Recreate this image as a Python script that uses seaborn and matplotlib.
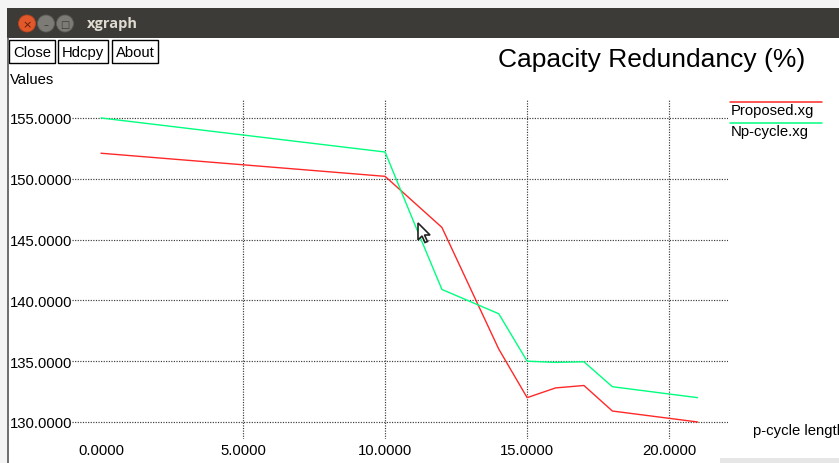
import matplotlib
matplotlib.use("Agg")
import matplotlib.pyplot as plt
from matplotlib.patches import Rectangle, Circle, Polygon
import seaborn as sns

# p-cycle length values and capacity redundancy (%)
p_cycle_length = [0, 10, 11, 12, 13, 14, 15, 16, 17, 18, 21]
proposed = [152.1, 150.2, 148.1, 146.0, 141.0, 136.0, 132.0, 132.8, 133.0, 130.9, 130.0]
np_cycle = [155.0, 152.2, 146.5, 140.9, 139.9, 138.9, 135.0, 134.9, 134.95, 132.9, 132.0]

series_names = ["Proposed.xg", "Np-cycle.xg"]
x_ticks = [0, 5, 10, 15, 20]
y_ticks = [130, 135, 140, 145, 150, 155]

RED = "#ff2828"
GREEN = "#00ff7f"
FONT = "Liberation Sans"
W, H = 839, 464

sns.set_style("white")
plt.rcParams["font.family"] = [FONT, "DejaVu Sans"]

fig = plt.figure(figsize=(W / 100, H / 100), dpi=100)
fig.patch.set_facecolor("#f4f4f4")

# background layer in pixel coords (y grows downwards) for the window chrome
bg = fig.add_axes([0, 0, 1, 1], zorder=0)
bg.set_xlim(0, W)
bg.set_ylim(H, 0)
bg.axis("off")
bg.add_patch(Rectangle((7, 9), W, H, facecolor="white", edgecolor="none"))
bg.add_patch(Rectangle((7, 9), W, 30, facecolor="#3c3b37", edgecolor="none"))
bg.plot([7.5, 7.5], [39, H], color="#555555", lw=1.2)
bg.add_patch(Rectangle((720, 459), 120, 6, facecolor="#e6e6e6", edgecolor="none"))

bg.add_patch(Circle((27, 24.5), 8.5, facecolor="#e2582a", edgecolor="#b8441e", lw=0.6))
bg.text(27, 25, "×", ha="center", va="center", fontsize=8, color="#5a1e0a",
        family="DejaVu Sans")
for cx, mark in [(46, "–"), (65, "□")]:
    bg.add_patch(Circle((cx, 24.5), 8.5, facecolor="#7c7b75", edgecolor="#5d5c57", lw=0.6))
    bg.text(cx, 25, mark, ha="center", va="center", fontsize=7, color="#3c3b37",
            family="DejaVu Sans")
bg.text(87, 24, "xgraph", ha="left", va="center", fontsize=10.5, fontweight="bold",
        color="#dfdbd2", family=["Open Sans", "DejaVu Sans"])

for x0, x1, label in [(9, 55, "Close"), (58, 108, "Hdcpy"), (112, 158, "About")]:
    bg.add_patch(Rectangle((x0, 41), x1 - x0, 23, facecolor="white",
                           edgecolor="black", lw=1))
    bg.text((x0 + x1) / 2, 53, label, ha="center", va="center", fontsize=10.7,
            color="black")

bg.text(10, 80, "Values", ha="left", va="center", fontsize=10.7, color="black")
bg.text(498, 60, "Capacity Redundancy (%)", ha="left", va="center", fontsize=19,
        color="black")
# the x label runs off the window's right edge in the screenshot
bg.text(753, 431, "p-cycle length", ha="left", va="center", fontsize=10.7,
        color="black")

# legend drawn xgraph-style: coloured line above each name
for y_line, name, color in [(103, series_names[0], RED), (124, series_names[1], GREEN)]:
    bg.plot([730, 822], [y_line, y_line], color=color, lw=1.1)
    bg.text(731, y_line + 8, name, ha="left", va="center", fontsize=10.7, color="black")

# chart axes
ax = fig.add_axes([72 / W, (H - 440) / H, 656 / W, 340 / H], zorder=1)
ax.set_facecolor("none")

sns.lineplot(x=p_cycle_length, y=proposed, ax=ax, color=RED, linewidth=1.0,
             legend=False, zorder=3)
sns.lineplot(x=p_cycle_length, y=np_cycle, ax=ax, color=GREEN, linewidth=1.0,
             legend=False, zorder=3)

ax.set_xlim(-1.02, 22.07)
ax.set_ylim(128.6, 156.56)
ax.set_xticks(x_ticks)
ax.set_yticks(y_ticks)
ax.set_xticklabels([f"{v:.4f}" for v in x_ticks])
ax.set_yticklabels([f"{v:.4f}" for v in y_ticks])
ax.tick_params(axis="both", length=0, labelsize=10.7, labelcolor="black")
ax.tick_params(axis="y", pad=0)
ax.tick_params(axis="x", pad=3)
ax.grid(True, color="#3a3a3a", linestyle=(0, (1, 1.2)), linewidth=0.85)
ax.xaxis.get_major_ticks()[0].gridline.set_visible(False)
for spine in ax.spines.values():
    spine.set_visible(False)
ax.set_xlabel("")
ax.set_ylabel("")

# mouse pointer left in the screenshot
top = fig.add_axes([0, 0, 1, 1], zorder=5)
top.set_xlim(0, W)
top.set_ylim(H, 0)
top.axis("off")
tip_x, tip_y = 418, 224
arrow = [(0, 0), (0, 17), (4, 13), (7, 19.5), (9.5, 18.5), (6.5, 12), (12, 12)]
top.add_patch(Polygon([(tip_x + dx, tip_y + dy) for dx, dy in arrow], closed=True,
                      facecolor="white", edgecolor="#222222", lw=1.2))

fig.savefig("out.png", dpi=100)
